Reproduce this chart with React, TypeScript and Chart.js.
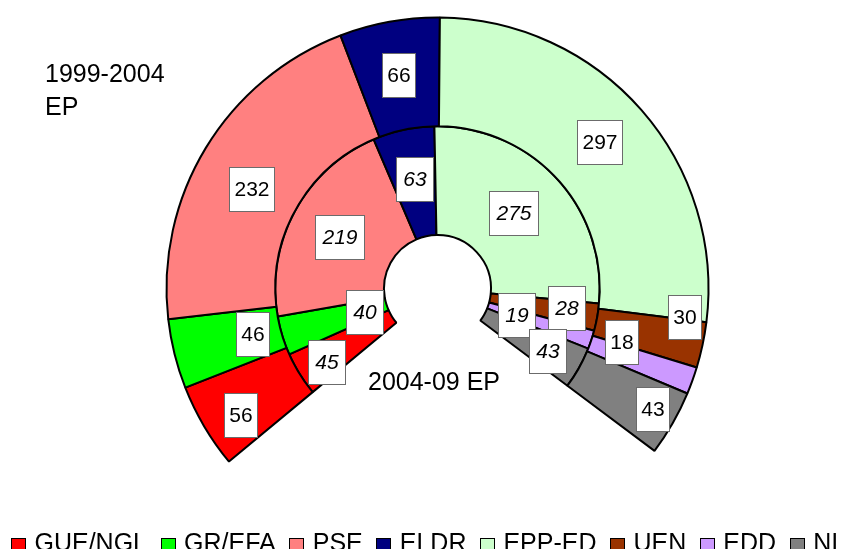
import React, { useEffect, useRef } from "react";
import { Chart, registerables } from "chart.js";

Chart.register(...registerables);

// ---- data ----
const PARTIES = ["GUE/NGL", "GR/EFA", "PSE", "ELDR", "EPP-ED", "UEN", "EDD", "NI"];
const COLORS = ["#FF0000", "#00FF00", "#FF8080", "#000080", "#CCFFCC", "#993300", "#CC99FF", "#808080"];
const SEATS_1999_2004 = [56, 46, 232, 66, 297, 30, 18, 43];
const SEATS_2004_09 = [45, 40, 219, 63, 275, 28, 19, 43];
const OUTER_RING_LABEL = ["1999-2004", "EP"];
const INNER_RING_LABEL = "2004-09 EP";

// ---- label layout (fraction across ring, angular nudge in degrees) ----
const LABEL_RADIAL = [
  [0.66, 0.255, 0.44, 0.5, 0.52, 0.8, 0.28, 0.78],
  [0.73, 0.21, 0.52, 0.53, 0.49, 0.71, 0.28, 0.68],
];
const LABEL_TURN = [
  [-2.4, 0, -3.3, 0, -0.8, -5.3, -3.5, -0.6],
  [-2.2, -1.8, -0.6, 0.4, -1.5, -1.2, 0.7, 0.2],
];

const FONT = '"Liberation Sans", Arial, sans-serif';

const seatLabels = {
  id: "seatLabels",
  afterDatasetsDraw(chart: any) {
    const ctx = chart.ctx;
    chart.data.datasets.forEach((ds: any, di: number) => {
      const meta = chart.getDatasetMeta(di);
      meta.data.forEach((arc: any, i: number) => {
        const p = arc.getProps(["x", "y", "startAngle", "endAngle", "innerRadius", "outerRadius"], true);
        const mid = (p.startAngle + p.endAngle) / 2 + (LABEL_TURN[di][i] * Math.PI) / 180;
        const r = p.innerRadius + (p.outerRadius - p.innerRadius) * LABEL_RADIAL[di][i];
        const cx = p.x + Math.cos(mid) * r;
        const cy = p.y + Math.sin(mid) * r;
        const text = String(ds.data[i]);
        ctx.save();
        ctx.font = (di === 1 ? "italic " : "") + "21px " + FONT;
        const w = Math.round(ctx.measureText(text).width + (di === 1 ? 15 : 11));
        const h = 45;
        const x0 = Math.round(cx - w / 2);
        const y0 = Math.round(cy - h / 2);
        ctx.fillStyle = "#FFFFFF";
        ctx.fillRect(x0, y0, w, h);
        ctx.strokeStyle = "#6b6b6b";
        ctx.lineWidth = 1;
        ctx.strokeRect(x0 + 0.5, y0 + 0.5, w - 1, h - 1);
        ctx.fillStyle = "#000000";
        ctx.textAlign = "center";
        ctx.textBaseline = "middle";
        ctx.fillText(text, x0 + w / 2, y0 + h / 2 + 1);
        ctx.restore();
      });
    });
  },
};

export default function App() {
  const ref = useRef<HTMLCanvasElement | null>(null);

  useEffect(() => {
    if (!ref.current) return;
    const ringStyle = {
      backgroundColor: COLORS,
      borderColor: "#000000",
      borderWidth: 2,
      hoverBorderWidth: 2,
      hoverOffset: 0,
      offset: 0,
    };
    const chart = new Chart(ref.current, {
      type: "doughnut",
      data: {
        labels: PARTIES,
        datasets: [
          { label: OUTER_RING_LABEL.join(" "), data: SEATS_1999_2004, ...ringStyle },
          { label: INNER_RING_LABEL, data: SEATS_2004_09, ...ringStyle },
        ],
      },
      options: {
        responsive: false,
        devicePixelRatio: 1,
        animation: false,
        events: [],
        rotation: 230.3,
        circumference: 256.5,
        cutout: "19.74%",
        layout: { padding: { left: 165.5, right: 132.5, top: 10, bottom: 79.9 } },
        plugins: {
          legend: { display: false },
          title: { display: false },
          tooltip: { enabled: false },
        },
      } as any,
      plugins: [seatLabels],
    });
    return () => chart.destroy();
  }, []);

  return (
    <div
      style={{
        position: "fixed",
        left: 0,
        top: 0,
        width: 842,
        height: 549,
        overflow: "hidden",
        background: "#FFFFFF",
        fontFamily: FONT,
        color: "#000",
      }}
    >
      <canvas
        ref={ref}
        width={842}
        height={549}
        style={{ position: "absolute", left: 0, top: 0, width: 842, height: 549 }}
      />
      <div style={{ position: "absolute", left: 45, top: 56.7, fontSize: 25, lineHeight: "33px", whiteSpace: "nowrap" }}>
        {OUTER_RING_LABEL[0]}
        <br />
        {OUTER_RING_LABEL[1]}
      </div>
      <div style={{ position: "absolute", left: 368, top: 364.7, fontSize: 25, lineHeight: "33px", whiteSpace: "nowrap" }}>
        {INNER_RING_LABEL}
      </div>
      <div
        style={{
          position: "absolute",
          left: 11,
          top: 525.7,
          display: "flex",
          alignItems: "flex-start",
          fontSize: 25,
          lineHeight: "33px",
          whiteSpace: "nowrap",
        }}
      >
        {PARTIES.map((p, i) => (
          <div key={p} style={{ display: "flex", alignItems: "flex-start", marginRight: 13.5 }}>
            <span
              style={{
                display: "inline-block",
                width: 15,
                height: 15,
                boxSizing: "border-box",
                border: "1.5px solid #000",
                background: COLORS[i],
                marginTop: 12.3,
                marginRight: 8.5,
              }}
            />
            <span>{p}</span>
          </div>
        ))}
      </div>
    </div>
  );
}
